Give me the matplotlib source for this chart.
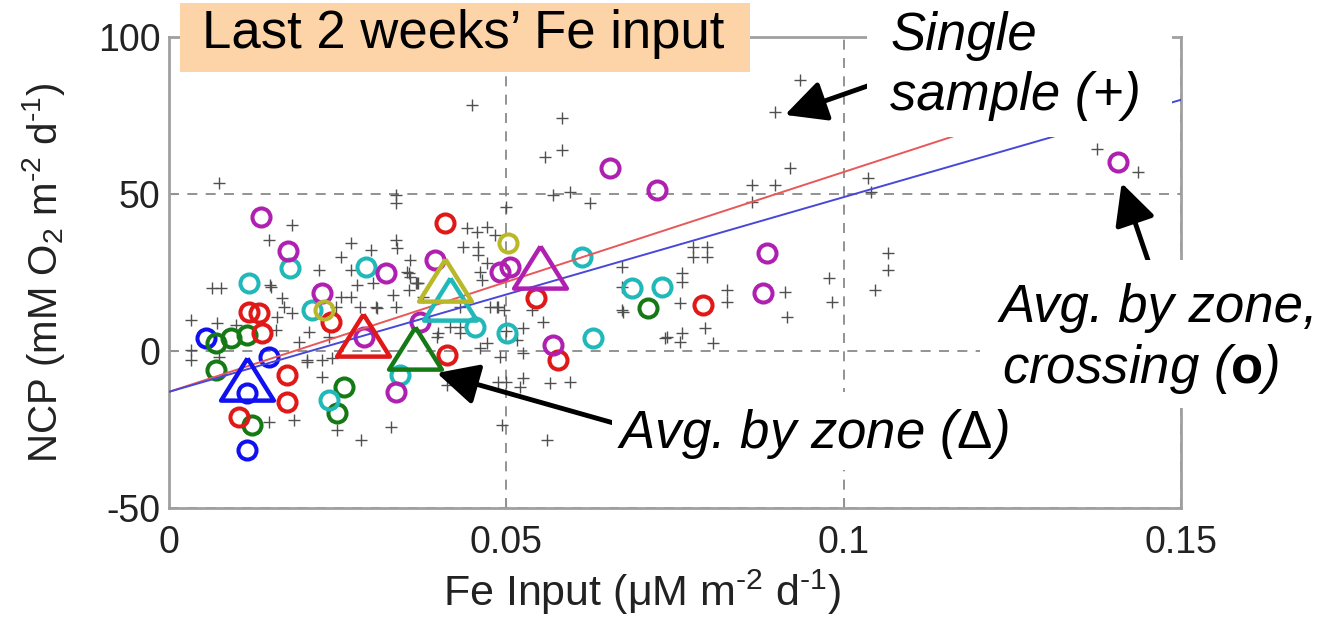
import numpy as np
import matplotlib
matplotlib.use("Agg")
import matplotlib.pyplot as plt
from matplotlib.patches import Rectangle

plt.rcParams['font.family'] = ['Liberation Sans', 'DejaVu Sans']
plt.rcParams['mathtext.fontset'] = 'custom'
plt.rcParams['mathtext.rm'] = 'Liberation Sans'
plt.rcParams['mathtext.it'] = 'Liberation Sans:italic'
plt.rcParams['mathtext.bf'] = 'Liberation Sans:bold'
plt.rcParams['mathtext.default'] = 'regular'

# single samples (+)
cross_x = [0.0074, 0.0336, 0.0336, 0.0182, 0.0148, 0.027, 0.0336, 0.0338, 0.0299, 0.0255,
           0.0222, 0.027, 0.0356, 0.0064, 0.0077, 0.0151, 0.0167, 0.017, 0.0182, 0.0255,
           0.027, 0.0247, 0.0307, 0.0336, 0.0356, 0.0366, 0.0033, 0.0071, 0.01, 0.016,
           0.0159, 0.0207, 0.0193, 0.0237, 0.0033, 0.0033, 0.0074, 0.0204, 0.0227, 0.0227,
           0.0241, 0.0148, 0.0185, 0.0249, 0.0284, 0.0329,
           0.0449, 0.0582, 0.0582, 0.0557, 0.0569, 0.0594, 0.0624, 0.05, 0.0441, 0.0456,
           0.0471, 0.0483, 0.0436, 0.0458, 0.0458, 0.0471, 0.0461, 0.0464, 0.0367, 0.0357,
           0.0671, 0.0671, 0.0671, 0.0735, 0.0476, 0.0486, 0.0538, 0.0554, 0.0524, 0.0431,
           0.0399, 0.0471, 0.0461, 0.0516, 0.0524, 0.049, 0.0487, 0.05, 0.0524, 0.052,
           0.0564, 0.0594, 0.0412, 0.0493, 0.056,
           0.0935, 0.0898, 0.092, 0.0864, 0.0898, 0.0864, 0.1036, 0.1041, 0.0776, 0.0797,
           0.0776, 0.0797, 0.0761, 0.0761, 0.0757, 0.0827, 0.0827, 0.0913, 0.0916, 0.0979,
           0.0982, 0.1065, 0.1065, 0.1046, 0.0738, 0.0757, 0.0761, 0.0794, 0.0806, 0.0673,
           0.1376, 0.1436,
           0.0279, 0.0302, 0.0283, 0.0308, 0.0332, 0.0369, 0.0353, 0.0204, 0.015, 0.0376,
           0.0431, 0.0416, 0.0431, 0.0397, 0.0357, 0.0487, 0.0497, 0.05]
cross_y = [53.5, 49.7, 47.0, 40.0, 35.4, 34.4, 35.4, 32.8, 32.2, 30.0,
           25.8, 25.8, 24.8, 20.0, 20.0, 20.4, 16.9, 14.0, 12.1, 17.2,
           17.2, 14.0, 14.0, 14.0, 19.4, 21.7, 9.9, 8.9, 8.3, 10.8,
           6.7, 6.1, 2.9, 4.5, 0.3, -2.9, -1.9, -2.9, -2.9, -8.3,
           -2.2, -22.6, -22.0, -25.2, -28.3, -24.2,
           78.3, 74.2, 64.0, 61.8, 49.7, 50.6, 47.0, 45.9, 39.2, 37.9,
           39.5, 36.9, 33.1, 33.1, 30.6, 28.0, 25.2, 22.6, 21.7, 23.6,
           26.8, 20.4, 13.0, 4.1, 14.0, 14.0, 13.0, 9.2, 7.3, 5.7,
           5.7, 2.5, 1.0, 3.5, -0.6, -1.9, -9.9, -9.9, -8.6, -11.5,
           -10.2, -9.9, -10.8, -23.6, -28.3,
           86.3, 76.1, 58.3, 52.9, 52.9, 47.5, 55.1, 50.6, 33.1, 33.1,
           30.0, 30.0, 24.8, 22.0, 15.3, 19.4, 15.6, 18.8, 10.8, 23.2,
           15.6, 31.2, 25.8, 19.4, 4.5, 2.9, 5.7, 7.3, 2.5, 12.4,
           64.3, 57.0,
           21.0, 21.7, 14.0, 13.7, 17.8, 21.7, 25.2, -3.5, 21.0, 17.2,
           14.0, 7.6, 7.6, 4.5, 29.0, 14.0, 13.0, 6.5]

# zone colours (0 blue, 1 green, 2 red, 3 cyan, 4 magenta, 5 olive)
zone_colors = ['#1010f0', '#157a15', '#e01818', '#20b8b8', '#b020b0', '#b8b828']

# average by zone, crossing (o)
circ_x = [0.0055, 0.0148, 0.0116, 0.0116,
          0.007, 0.0092, 0.0116, 0.007, 0.0123, 0.0259, 0.0249, 0.071,
          0.0119, 0.0133, 0.0138, 0.0175, 0.0175, 0.0104, 0.024, 0.0409, 0.0412, 0.0544, 0.0576, 0.0791,
          0.018, 0.0119, 0.0292, 0.0212, 0.0237, 0.0342, 0.0453, 0.0501, 0.0612, 0.0686, 0.073, 0.0628,
          0.0136, 0.0176, 0.0321, 0.0227, 0.0289, 0.0336, 0.0394, 0.049, 0.0505, 0.0653, 0.0723, 0.0569,
          0.0372, 0.0887, 0.088, 0.1406,
          0.023, 0.0502]
circ_y = [4.1, -1.9, -13.4, -31.5,
          2.5, 4.1, 5.1, -6.0, -23.6, -11.5, -19.7, 13.7,
          12.4, 12.1, 5.7, -7.6, -16.2, -21.0, 9.2, 40.8, -1.3, 16.9, -2.9, 14.6,
          26.4, 21.6, 26.8, 13.0, -15.6, -7.6, 7.6, 5.7, 30.0, 20.0, 20.4, 4.1,
          42.7, 32.0, 24.8, 18.5, 4.5, -13.0, 29.0, 25.2, 26.8, 58.3, 51.3, 1.9,
          9.2, 31.2, 18.5, 60.2,
          13.0, 34.4]
circ_zone = [0] * 4 + [1] * 8 + [2] * 12 + [3] * 12 + [4] * 16 + [5] * 2

# average by zone (triangles)
tri_x = [0.0116, 0.0364, 0.0287, 0.0416, 0.055, 0.0409]
tri_y = [-9.0, 1.0, 5.2, 16.5, 26.8, 22.5]
tri_zone = [0, 1, 2, 3, 4, 5]

# regression lines (end points)
fit_red_x = [0.0, 0.14]
fit_red_y = [-13.0, 85.0]
fit_blue_x = [0.0, 0.15]
fit_blue_y = [-13.0, 80.0]

xticks = [0, 0.05, 0.1, 0.15]
xticklabels = ['0', '0.05', '0.1', '0.15']
yticks = [-50, 0, 50, 100]
yticklabels = ['-50', '0', '50', '100']

W, H = 1323, 617
fig = plt.figure(figsize=(W / 100, H / 100), dpi=100)
ax = fig.add_axes([169 / W, 1 - 508 / H, 1012 / W, 471 / H])

ax.plot(cross_x, cross_y, '+', color='#505050', ms=9, mew=1.0, zorder=2)

for z, c in enumerate(zone_colors):
    xs = [x for x, k in zip(circ_x, circ_zone) if k == z]
    ys = [y for y, k in zip(circ_y, circ_zone) if k == z]
    ax.plot(xs, ys, 'o', mfc='none', mec=c, ms=13, mew=2.9, zorder=3)

ax.plot(fit_red_x, fit_red_y, color='#e85858', lw=1.4, zorder=4)
ax.plot(fit_blue_x, fit_blue_y, color='#4848d8', lw=1.4, zorder=4)

tri_marker = [(0, 0.8), (-1, -0.8), (1, -0.8), (0, 0.8)]
for x, y, z in zip(tri_x, tri_y, tri_zone):
    ax.plot([x], [y], marker=tri_marker, mfc='none', mec=zone_colors[z],
            ms=38, mew=3.2, ls='none', zorder=5)

ax.set_xlim(0, 0.15)
ax.set_ylim(-50, 100)
ax.set_xticks(xticks)
ax.set_xticklabels(xticklabels)
ax.set_yticks(yticks)
ax.set_yticklabels(yticklabels)
ax.grid(True, ls=(0, (6, 5)), color='#808080', lw=1.2)
ax.set_axisbelow(True)
for s in ax.spines.values():
    s.set_color('#a0a0a0')
    s.set_linewidth(2)
ax.tick_params(direction='in', length=6, color='#909090', labelsize=27,
               labelcolor='#222222')
ax.tick_params(axis='x', pad=12)
ax.tick_params(axis='y', pad=6)
ax.set_xlabel('Fe Input (μM m$^{\\text{-}2}$ d$^{\\text{-}1}$)', fontsize=31,
              color='#222222', labelpad=5)
ax.xaxis.label.set_x(0.468)
ax.set_ylabel('NCP (mM O$_2$ m$^{\\text{-}2}$ d$^{\\text{-}1}$)', fontsize=29,
              color='#222222', labelpad=22)

# arrows
arrow_kw = dict(arrowstyle='-|>,head_length=1.8,head_width=0.9', color='k',
                lw=3.5, mutation_scale=14, shrinkA=0, shrinkB=0)
ax.annotate('', xy=(0.0913, 75.2), xytext=(0.1050, 85.5), arrowprops=arrow_kw,
            annotation_clip=False, zorder=6)
ax.annotate('', xy=(0.0397, -7.0), xytext=(0.0660, -23.0), arrowprops=arrow_kw,
            annotation_clip=False, zorder=6)
ax.annotate('', xy=(0.1412, 53.5), xytext=(0.1462, 22.0), arrowprops=arrow_kw,
            annotation_clip=False, zorder=6)


def fig_rect(x0, y0, x1, y1, color):
    fig.patches.append(Rectangle((x0 / W, 1 - y1 / H), (x1 - x0) / W, (y1 - y0) / H,
                                 transform=fig.transFigure, facecolor=color,
                                 edgecolor='none', zorder=2))


def fig_txt(x, y, s, **kw):
    fig.text(x / W, 1 - y / H, s, ha='left', va='baseline', fontsize=38, zorder=3, **kw)


fig_rect(180, 3, 750, 72, '#fdd4a7')
fig_rect(867, 0, 1172, 137, 'white')
fig_rect(980, 260, W, 408, 'white')
fig_rect(612, 392, 1005, 470, 'white')

fig_txt(202, 48, 'Last 2 weeks\u2019 Fe input')
fig_txt(891, 50, 'Single', style='italic')
fig_txt(890, 110, 'sample (+)', style='italic')
fig_txt(1000, 322, 'Avg. by zone,', style='italic')
fig_txt(1002, 383, 'crossing ($\\mathbf{o}$)', style='italic')
fig_txt(617, 448, 'Avg. by zone ($\\mathrm{\\Delta}$)', style='italic')

fig.savefig('out.png', dpi=100)
